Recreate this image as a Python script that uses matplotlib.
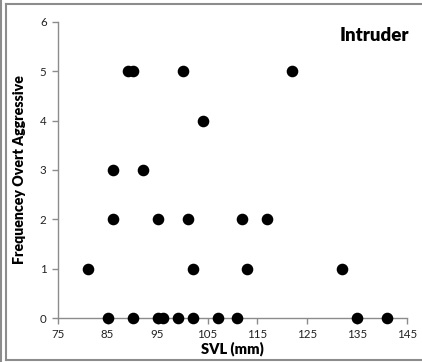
import matplotlib
matplotlib.use('Agg')
import matplotlib.pyplot as plt
from matplotlib.lines import Line2D

# snout-vent length (mm) and count of overt aggressive displays
svl = [81, 85, 86, 86, 89, 90, 90, 92, 95, 95, 96, 99, 100, 101, 102, 102,
       104, 107, 111, 112, 113, 117, 122, 132, 135, 141]
freq = [1, 0, 3, 2, 5, 5, 0, 3, 2, 0, 0, 0, 5, 2, 1, 0,
        4, 0, 0, 2, 1, 2, 5, 1, 0, 0]

x_ticks = [75, 85, 95, 105, 115, 125, 135, 145]
y_ticks = [0, 1, 2, 3, 4, 5, 6]

plt.rcParams['font.family'] = ['Lato', 'DejaVu Sans']
axis_grey = '#8c8c8c'

W, H = 422, 362
fig = plt.figure(figsize=(W / 100, H / 100), dpi=100)
ax = fig.add_axes([57.7 / W, 1 - 318.3 / H, 349.6 / W, 296.6 / H])

ax.scatter(svl, freq, s=54, color='black', zorder=3, clip_on=False)

ax.set_xlim(75, 145)
ax.set_ylim(0, 6)
ax.set_xticks(x_ticks)
ax.set_yticks(y_ticks)
for side in ('top', 'right'):
    ax.spines[side].set_visible(False)
for side in ('left', 'bottom'):
    ax.spines[side].set_color(axis_grey)
    ax.spines[side].set_linewidth(1.0)
ax.tick_params(direction='out', length=4, width=1.0, color=axis_grey,
               labelsize=8.3, labelcolor='#222222', pad=4)

ax.set_xlabel('SVL (mm)', fontsize=10.5, fontweight='heavy', labelpad=1)
ax.set_ylabel('Frequencey Overt Aggressive', fontsize=10.2, fontweight='heavy', labelpad=10)
ax.text(0.905, 0.955, 'Intruder', transform=ax.transAxes, fontsize=13.5,
        fontweight='heavy', ha='center', va='center')

# chart frame lines
def fline(xs, ys, lw=1.5):
    fig.add_artist(Line2D([x / W for x in xs], [1 - y / H for y in ys],
                          color=axis_grey, lw=lw, transform=fig.transFigure))

fline([0.8, 0.8], [0, H])
fline([5.5, 5.5], [3.5, 359.5])
fline([5.5, W], [3.5, 3.5])
fline([5.5, W], [359.5, 359.5])

fig.savefig('out.png', dpi=100)
